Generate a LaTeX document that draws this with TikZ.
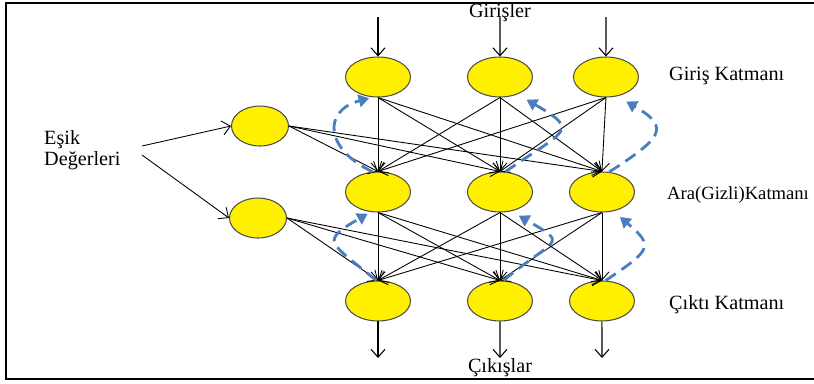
\documentclass[tikz,border=0pt]{standalone}
\usepackage{fontspec}
\setmainfont{Liberation Serif}
\usetikzlibrary{shapes.geometric, arrows.meta}
\definecolor{nodeyellow}{RGB}{255,240,0}
\definecolor{fbblue}{RGB}{74,126,190}

\begin{document}
\begin{tikzpicture}[x=0.02cm, y=0.02cm, node distance=2.44cm,
    font=\fontsize{11.5}{12}\selectfont,
    >={Straight Barb[length=4.5pt, width=8pt]},
    neuron/.style={ellipse, draw=black!70, line width=0.6pt, fill=nodeyellow, minimum width=1.3cm, minimum height=0.8cm},
    feedback/.style={draw=fbblue, line width=1.6pt, dash pattern=on 7pt off 4pt, -{Triangle[length=6pt, width=7pt]}}]
      \useasboundingbox (0,0) rectangle (814,-383);
      \draw[line width=1.1pt] (814,-3) -- (6,-3) -- (6,-379) -- (814,-379);

      \node[neuron] (1) at (378,-77) {};
      \node[neuron] (2) [right of = 1] {};
      \node[neuron, node distance = 2.12cm] (3) [right of = 2] {};
      \node[neuron, node distance = 2.3cm] (4) [below of = 1] {};
      \node[neuron] (5) [right of = 4] {};
      \node[neuron, node distance = 2.04cm] (6) [right of = 5] {};
      \node[neuron, node distance = 2.18cm] (7) [below of = 4] {};
      \node[neuron] (8) [right of = 7] {};
      \node[neuron, node distance = 2.04cm] (9) [right of = 8] {};
      \node[neuron, minimum width=1.14cm] (10) at (260,-126) {};
      \node[neuron, minimum width=1.14cm] (11) at (258,-218) {};

      \node (in) at (500,-13) {Girişler};
      \node (out) at (500,-368) {Çıkışlar};
      \node[anchor=west] (layer1) at (663,-76) {Giriş Katmanı};
      \node[anchor=west, font=\fontsize{10.6}{12}\selectfont] (layer2) at (661,-195) {Ara(Gizli)Katmanı};
      \node[anchor=west] (layer3) at (663,-305) {Çıktı Katmanı};
      \node[anchor=west, align=left] (esik) at (38,-150) {Eşik\\Değerleri};

      \coordinate (t1) at (378,-17);
      \coordinate (t2) at (500,-17);
      \coordinate (t3) at (606,-17);
      \coordinate (b1) at (378,-358);
      \coordinate (b2) at (500,-358);
      \coordinate (b3) at (602,-358);
      \coordinate (e1) at (142,-146);
      \coordinate (e2) at (142,-155);

      \path[->, line width=0.6pt] (t1) edge (1.north);
      \path[->, line width=0.6pt] (t2) edge (2.north);
      \path[->, line width=0.6pt] (t3) edge (3.north);
      \path[->, line width=0.5pt] (e1) edge (10.west);
      \path[->, line width=0.5pt] (e2) edge (11.west);
      \path[->, line width=0.5pt] (1.south) edge (4.north) edge (5.north) edge (6.north);
      \path[->, line width=0.5pt] (2.south) edge (4.north) edge (5.north) edge (6.north);
      \path[->, line width=0.5pt] (3.south) edge (4.north) edge (5.north) edge (6.north);
      \path[->, line width=0.5pt] (10.east) edge (4.north) edge (5.north) edge (6.north);
      \path[->, line width=0.5pt] (4.south) edge (7.north) edge (8.north) edge (9.north);
      \path[->, line width=0.5pt] (5.south) edge (7.north) edge (8.north) edge (9.north);
      \path[->, line width=0.5pt] (6.south) edge (7.north) edge (8.north) edge (9.north);
      \path[->, line width=0.5pt] (11.east) edge (7.north) edge (8.north) edge (9.north);
      \path[->, line width=0.6pt] (7.south) edge (b1);
      \path[->, line width=0.6pt] (8.south) edge (b2);
      \path[->, line width=0.6pt] (9.south) edge (b3);

      % geri besleme
      \draw[feedback, shorten >=2pt] (4.105) to[out=155, in=195, looseness=1.8] (1.255);
      \draw[feedback, shorten >=6pt] (5.75) to[out=35, in=330, looseness=2.4] (2.315);
      \draw[feedback, shorten >=6pt] (6.70) to[out=33, in=330, looseness=2.1] (3.300);
      \draw[feedback, shorten >=2pt] (7.95) to[out=140, in=210, looseness=2.25] (4.250);
      \draw[feedback, shorten >=5pt] (8.80) to[out=40, in=330, looseness=2.5] (5.300);
      \draw[feedback, shorten >=5pt] (9.80) to[out=34, in=320, looseness=2.0] (6.300);
    \end{tikzpicture}
\end{document}
